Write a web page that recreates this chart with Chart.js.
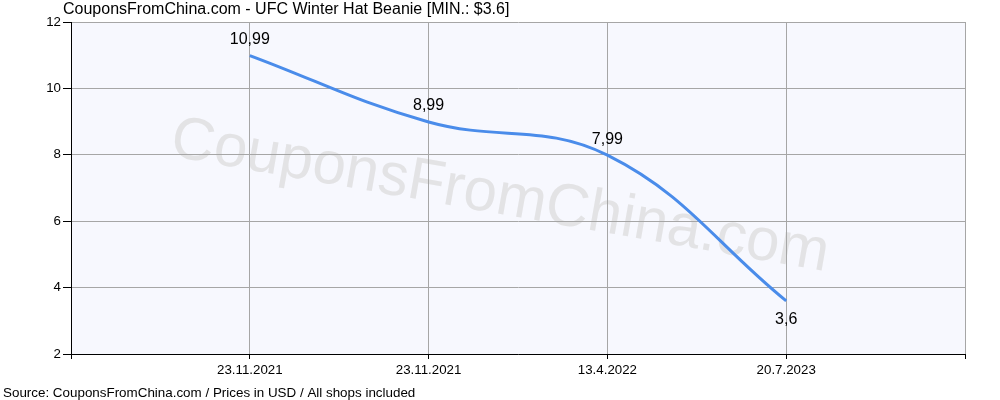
<!DOCTYPE html>
<html>
<head>
<meta charset="utf-8">
<script src="https://cdn.jsdelivr.net/npm/chart.js@4"></script>
<style>
  html, body { margin: 0; padding: 0; background: #fff; }
  #wrap { width: 1000px; height: 400px; position: relative; }
</style>
</head>
<body>
<div id="wrap"><canvas id="grafico" width="1000" height="400"></canvas></div>
<script>
// dados do gráfico
const datas = ['', '23.11.2021', '23.11.2021', '13.4.2022', '20.7.2023', ''];
const precos = [null, 10.99, 8.99, 7.99, 3.6, null];
const rotulos = ['', '10,99', '8,99', '7,99', '3,6', ''];
const titulo = 'CouponsFromChina.com - UFC Winter Hat Beanie [MIN.: $3.6]';
const rodape = 'Source: CouponsFromChina.com / Prices in USD / All shops included';
const marcaDagua = 'CouponsFromChina.com';

const FONTE = 'Arial, "Liberation Sans", sans-serif';

// fundo da área, marca d'água, título e rodapé
const decoracao = {
  id: 'decoracao',
  beforeDraw(chart) {
    const { ctx, chartArea: a } = chart;
    ctx.save();
    ctx.fillStyle = '#f7f8fe';
    ctx.fillRect(a.left, a.top, a.right - a.left, a.bottom - a.top);

    ctx.beginPath();
    ctx.rect(a.left, a.top, a.right - a.left, a.bottom - a.top);
    ctx.clip();
    ctx.translate(500, 197);
    ctx.rotate(10 * Math.PI / 180);
    ctx.font = '60px ' + FONTE;
    ctx.fillStyle = '#e3e3e5';
    ctx.textAlign = 'center';
    ctx.textBaseline = 'middle';
    ctx.fillText(marcaDagua, 0, 0);
    ctx.restore();

    ctx.save();
    ctx.fillStyle = '#000';
    ctx.textBaseline = 'middle';
    ctx.font = '16px ' + FONTE;
    ctx.fillText(titulo, 63, 10);
    ctx.font = '13.4px ' + FONTE;
    ctx.fillText(rodape, 3, 393);
    ctx.restore();
  },
  afterDatasetsDraw(chart) {
    const { ctx } = chart;
    const meta = chart.getDatasetMeta(0);
    ctx.save();
    ctx.font = '16px ' + FONTE;
    ctx.fillStyle = '#000';
    ctx.textAlign = 'center';
    ctx.textBaseline = 'middle';
    meta.data.forEach((p, i) => {
      if (precos[i] === null) return;
      const abaixo = i === precos.length - 2;
      ctx.fillText(rotulos[i], p.x, abaixo ? p.y + 19 : p.y - 16);
    });
    ctx.restore();
  }
};

new Chart(document.getElementById('grafico'), {
  type: 'line',
  data: {
    labels: datas,
    datasets: [{
      data: precos,
      borderColor: '#4a8cea',
      borderWidth: 3,
      tension: 0.4,
      pointRadius: 0,
      fill: false
    }]
  },
  options: {
    responsive: false,
    animation: false,
    layout: { padding: { top: 22, right: 35, bottom: 0, left: 0 } },
    plugins: {
      legend: { display: false },
      tooltip: { enabled: false }
    },
    scales: {
      x: {
        offset: false,
        grid: {
          color: '#a6a6a6',
          tickColor: '#000',
          tickLength: 5,
          drawTicks: true
        },
        border: { color: '#000', width: 1 },
        ticks: {
          autoSkip: false,
          maxRotation: 0,
          color: '#000',
          font: { size: 13.3, family: FONTE },
          padding: 3
        },
        afterFit(scale) { scale.height = 46; }
      },
      y: {
        min: 2,
        max: 12,
        grid: {
          color: '#a6a6a6',
          tickColor: '#000',
          tickLength: 8
        },
        border: { color: '#000', width: 1 },
        ticks: {
          stepSize: 2,
          color: '#000',
          font: { size: 13.3, family: FONTE },
          padding: 2
        },
        afterFit(scale) { scale.width = 71; }
      }
    }
  },
  plugins: [decoracao]
});
</script>
</body>
</html>
